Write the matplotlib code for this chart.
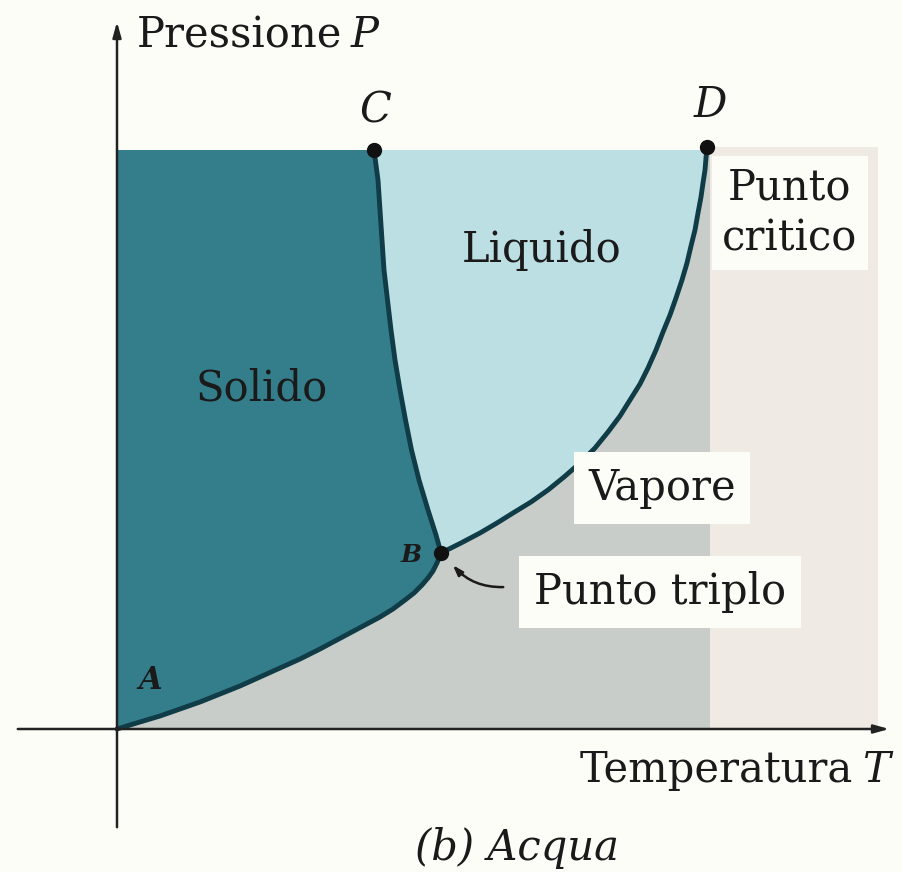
import numpy as np
import matplotlib.pyplot as plt

# Diagramma di fase dell'acqua (unità arbitrarie)
# curva di sublimazione A -> B
subl_T = [0.00, 0.23, 0.43, 0.63, 0.83, 1.03, 1.23, 1.43, 1.63, 1.83, 2.03, 2.18,
          2.33, 2.48, 2.63, 2.76, 2.88, 2.97, 3.05, 3.11, 3.16, 3.20, 3.24]
subl_P = [0.00, 0.07, 0.13, 0.20, 0.27, 0.35, 0.43, 0.52, 0.61, 0.70, 0.80, 0.88,
          0.96, 1.04, 1.12, 1.20, 1.29, 1.36, 1.44, 1.51, 1.58, 1.66, 1.76]
# curva di fusione C -> B
fus_T = [2.57, 2.59, 2.61, 2.63, 2.65, 2.67, 2.705, 2.74, 2.78, 2.83, 2.885,
         2.945, 3.02, 3.11, 3.19, 3.24]
fus_P = [5.79, 5.64, 5.49, 5.19, 4.89, 4.59, 4.29, 3.99, 3.69, 3.39, 3.09,
         2.79, 2.49, 2.19, 1.94, 1.76]
# curva di vaporizzazione B -> D
vap_T = [3.24, 3.44, 3.63, 3.80, 3.96, 4.14, 4.31, 4.47, 4.63, 4.78, 4.91, 5.03,
         5.13, 5.23, 5.31, 5.39, 5.46, 5.53, 5.59, 5.65, 5.70, 5.74, 5.78, 5.81,
         5.84, 5.86, 5.88, 5.89, 5.90]
vap_P = [1.76, 1.86, 1.96, 2.06, 2.16, 2.27, 2.39, 2.52, 2.66, 2.81, 2.97, 3.13,
         3.29, 3.45, 3.61, 3.79, 3.97, 4.14, 4.31, 4.49, 4.66, 4.83, 4.99, 5.16,
         5.32, 5.46, 5.59, 5.71, 5.82]

P_top = 5.79      # limite superiore delle zone colorate
T_crit_edge = 5.93
T_right = 7.61

BG = '#fdfdf8'
SOLID = '#347e8b'
LIQUID = '#bcdfe3'
VAPOR = '#c9cdca'
SUPER = '#efebe4'
LINE = '#0f3c46'

plt.rcParams['font.family'] = ['DejaVu Serif']

fig = plt.figure(figsize=(9.02, 8.72), dpi=100, facecolor=BG)
ax = fig.add_axes([0, 0, 1, 1])
ax.set_xlim(-1.17, 7.85)
ax.set_ylim(-1.43, 7.29)
ax.axis('off')

# zone
ax.fill([T_crit_edge, T_right, T_right, T_crit_edge], [0, 0, vap_P[-1], vap_P[-1]],
        color=SUPER, lw=0, zorder=1)
ax.fill(np.concatenate([subl_T, vap_T[1:], [T_crit_edge, T_crit_edge]]),
        np.concatenate([subl_P, vap_P[1:], [vap_P[-1], 0]]),
        color=VAPOR, lw=0, zorder=1)
ax.fill(np.concatenate([fus_T, vap_T[1:], [vap_T[-1]]]),
        np.concatenate([fus_P, vap_P[1:], [P_top]]),
        color=LIQUID, lw=0, zorder=2)
ax.fill(np.concatenate([subl_T, fus_T[::-1][1:], [fus_T[0], 0]]),
        np.concatenate([subl_P, fus_P[::-1][1:], [P_top, P_top]]),
        color=SOLID, lw=0, zorder=2)

# curve
for T, P in [(subl_T, subl_P), (fus_T, fus_P), (vap_T, vap_P)]:
    ax.plot(T, P, color=LINE, lw=3.5, solid_capstyle='round',
            solid_joinstyle='round', zorder=4)
ax.plot([fus_T[0], vap_T[-1], subl_T[-1]], [fus_P[0], vap_P[-1], subl_P[-1]],
        'o', color='#111111', ms=10, zorder=5)

# assi
ax.annotate('', xy=(7.75, 0), xytext=(-1.02, 0),
            arrowprops=dict(arrowstyle='-|>,head_length=0.9,head_width=0.25',
                            color='#222222', lw=1.8), zorder=6)
ax.annotate('', xy=(0, 7.1), xytext=(0, -1.01),
            arrowprops=dict(arrowstyle='-|>,head_length=0.9,head_width=0.25',
                            color='#222222', lw=1.8), zorder=6)

txt = dict(color='#1a1a1a', fontsize=30, zorder=7)
ax.text(0.2, 6.94, 'Pressione', ha='left', va='center', **txt)
ax.text(2.34, 6.94, 'P', ha='left', va='center', style='italic', **txt)
ax.text(7.73, -0.41, 'T', ha='right', va='center', style='italic', **txt)
ax.text(7.36, -0.41, 'Temperatura', ha='right', va='center', **txt)
ax.text(4.0, -1.19, '(b) Acqua', ha='center', va='center', style='italic', **txt)

ax.text(2.58, 6.19, 'C', ha='center', va='center', style='italic', **txt)
ax.text(5.93, 6.24, 'D', ha='center', va='center', style='italic', **txt)
ax.text(0.33, 0.49, 'A', ha='center', va='center', style='italic', weight='bold',
        fontsize=22, color='#1a1a1a', zorder=7)
ax.text(2.94, 1.74, 'B', ha='center', va='center', style='italic', weight='bold',
        fontsize=18, color='#1a1a1a', zorder=7)

ax.text(1.45, 3.41, 'Solido', ha='center', va='center', **txt)
ax.text(4.25, 4.79, 'Liquido', ha='center', va='center', **txt)

box = dict(boxstyle='square,pad=0.35', fc=BG, ec='none')
ax.text(5.45, 2.41, 'Vapore', ha='center', va='center', bbox=box, **txt)
ax.text(5.43, 1.37, 'Punto triplo', ha='center', va='center', bbox=box, **txt)
ax.text(6.73, 5.16, 'Punto\ncritico', ha='center', va='center', linespacing=1.25,
        bbox=dict(boxstyle='square,pad=0.25', fc=BG, ec='none'), **txt)

ax.annotate('', xy=(3.34, 1.66), xytext=(3.89, 1.42),
            arrowprops=dict(arrowstyle='-|>,head_length=0.6,head_width=0.2',
                            color='#1a1a1a', lw=1.8,
                            connectionstyle='arc3,rad=-0.25'), zorder=7)

fig.savefig('out.png', dpi=100, facecolor=BG)
